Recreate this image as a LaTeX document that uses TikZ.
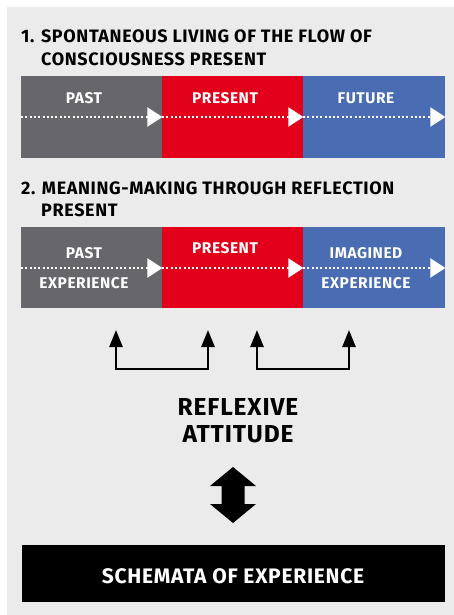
\documentclass[tikz,border=0pt]{standalone}
\usepackage{fontspec}
\setmainfont{Fira Sans}[BoldFont=Fira Sans Bold, LetterSpace=3.5]
\usetikzlibrary{arrows.meta}
\definecolor{bgc}{RGB}{235,235,235}
\definecolor{pastc}{RGB}{103,102,107}
\definecolor{presc}{RGB}{226,0,26}
\definecolor{futc}{RGB}{74,108,178}
\begin{document}
\begin{tikzpicture}[x=1pt,y=-1pt,
  seg/.style={draw=none, minimum height=82pt, inner sep=0pt, anchor=north west},
  ttl/.style={anchor=base west, inner sep=0pt, font=\bfseries\fontsize{18}{20}\selectfont},
  lbl/.style={anchor=base, inner sep=0pt, text=white, font=\bfseries\fontsize{15.5}{17}\selectfont},
  flow/.style={draw=white, line width=2pt, dash pattern=on 2pt off 2.3pt,
    -{Triangle[length=15pt,width=19pt]}},
  brk/.style={draw=black, line width=2.5pt,
    {Triangle[length=17pt,width=13pt]}-{Triangle[length=17pt,width=13pt]}},
  big/.style={anchor=base, inner sep=0pt, font=\bfseries\fontsize{24.5}{27}\selectfont}]
\useasboundingbox (0,0) rectangle (454,615);
\fill[white] (0,0) rectangle (454,615);
\fill[bgc] (7,7) rectangle (454,615);

% Section 1
\node[ttl] (t1a) at (21,43) {1. SPONTANEOUS LIVING OF THE FLOW OF};
\node[ttl] (t1b) at (41,66) {CONSCIOUSNESS PRESENT};
\node[seg, fill=pastc, minimum width=141pt] (p1) at (21,76) {};
\node[seg, fill=presc, minimum width=141pt] (q1) at (162,76) {};
\node[seg, fill=futc, minimum width=142pt] (f1) at (303,76) {};
\node[lbl] (p1t) at (84,103) {PAST};
\node[lbl] (q1t) at (225,103) {PRESENT};
\node[lbl] (f1t) at (366,103) {FUTURE};
\coordinate (r1) at (0,117);
\draw[flow] (p1.west |- r1) -- (p1.east |- r1);
\draw[flow] (q1.west |- r1) -- (q1.east |- r1);
\draw[flow] (f1.west |- r1) -- (f1.east |- r1);

% Section 2
\node[ttl] (t2a) at (21,194) {2. MEANING-MAKING THROUGH REFLECTION};
\node[ttl] (t2b) at (41,216) {PRESENT};
\node[seg, fill=pastc, minimum width=141pt, minimum height=81pt] (p2) at (21,227) {};
\node[seg, fill=presc, minimum width=141pt, minimum height=81pt] (q2) at (162,227) {};
\node[seg, fill=futc, minimum width=142pt, minimum height=81pt] (f2) at (303,227) {};
\node[lbl] (p2t) at (84,258) {PAST};
\node[lbl] (p2u) at (84,288) {EXPERIENCE};
\node[lbl] (q2t) at (225,253) {PRESENT};
\node[lbl] (f2t) at (366,258) {IMAGINED};
\node[lbl] (f2u) at (366,288) {EXPERIENCE};
\coordinate (r2) at (0,268);
\draw[flow] (p2.west |- r2) -- (p2.east |- r2);
\draw[flow] (q2.west |- r2) -- (q2.east |- r2);
\draw[flow] (f2.west |- r2) -- (f2.east |- r2);

% Brackets
\coordinate (b1) at (116,330);
\coordinate (b2) at (208,330);
\coordinate (b3) at (257,330);
\coordinate (b4) at (349,330);
\draw[brk] (b1) -- ++(0,39) -| (b2);
\draw[brk] (b3) -- ++(0,39) -| (b4);

% Reflexive attitude
\node[big] (rf) at (238,415) {REFLEXIVE};
\node[big] (at) at (238,442) {ATTITUDE};

% Double arrow
\coordinate (d1) at (233,467);
\fill[black] (d1) -- ++(23,19) -- ++(-11.5,0) -- ++(0,18) -- ++(11.5,0)
  -- ++(-23,19) -- ++(-23,-19) -- ++(11.5,0) -- ++(0,-18) -- ++(-11.5,0) -- cycle;

% Schemata
\node[fill=black, minimum width=423pt, minimum height=57pt, inner sep=0pt, anchor=north west] (sb) at (22,545) {};
\node[anchor=base, inner sep=0pt, text=white, font=\bfseries\fontsize{21}{24}\selectfont] (st) at (233,583) {SCHEMATA OF EXPERIENCE};
\end{tikzpicture}
\end{document}
